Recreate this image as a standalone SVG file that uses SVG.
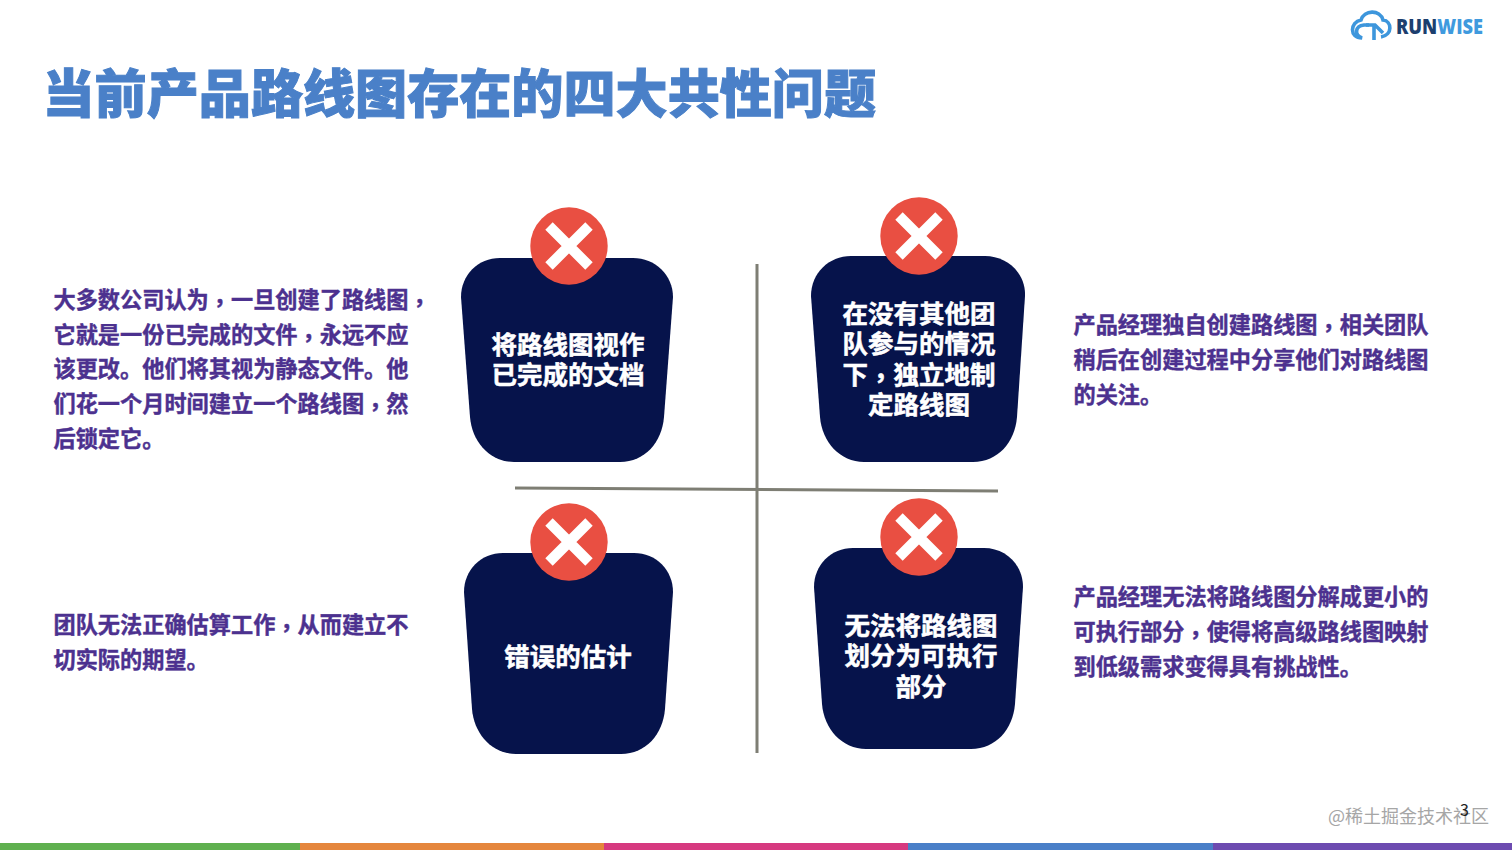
<svg xmlns="http://www.w3.org/2000/svg" width="1512" height="850" viewBox="0 0 1512 850">
<style>
text{font-family:"Noto Sans CJK SC","Noto Sans",sans-serif}
.title{font-size:52.1px;font-weight:900;fill:#4a80c8;stroke:#4a80c8;stroke-width:1px}
.desc{font-size:22.2px;font-weight:700;fill:#4c318f;stroke:#4c318f;stroke-width:.4px}
.label{font-size:25.5px;font-weight:700;fill:#fff;stroke:#fff;stroke-width:.5px;text-anchor:middle}
.p{font-family:"Noto Sans CJK TC","Noto Sans",sans-serif;baseline-shift:-3px}
.box{fill:#06134b}
.badge{fill:#e94f42}
.x{stroke:#fff;stroke-width:10.5px;fill:none}
.axis{stroke:#7e7e74;stroke-width:3px;fill:none}
</style>
<defs>
<g id="cross"><circle class="badge" r="38.7"/><path class="x" d="M-20,-20L20,20M20,-20L-20,20"/></g>
</defs>
<rect width="1512" height="850" fill="#fff"/>
<text class="title" x="42.5" y="113">当前产品路线图存在的四大共性问题</text>
<g id="logo">
<path d="M1381,37 C1393,35 1392,21 1383,20 C1380,9 1364,10 1361,20 C1350,22 1349,38 1362,38 C1354,35 1355,26 1364,25 H1369" fill="none" stroke="#3d96dc" stroke-width="3.6"/>
<path d="M1374,40 V25 M1366,25 H1375 L1383,33" fill="none" stroke="#3d96dc" stroke-width="3.6"/>
<text x="1396" y="34" font-size="21" font-weight="800" textLength="87" lengthAdjust="spacingAndGlyphs" style="font-family:'Open Sans',sans-serif" fill="#1c3f6e">RUN<tspan fill="#3f9ade">WISE</tspan></text>
</g>
<g id="connectors">
<path class="axis" d="M757,264V753"/>
<path class="axis" d="M515,488L998,491"/>
</g>
<g id="node-1">
<path class="box" d="M500,258H633C655,258 673,275 673,297L664,417C662,442 645,462 620,462H514C490,462 472,442 470,417L461,297C461,275 478,258 500,258Z"/>
<use href="#cross" x="569" y="246"/>
<text class="label" x="568" y="354">将路线图视作</text>
<text class="label" x="568" y="384">已完成的文档</text>
</g>
<g id="node-2">
<path class="box" d="M851,256H985C1007,256 1026,273 1025,296L1017,417C1015,442 998,462 973,462H864C840,462 822,442 820,417L811,296C811,273 829,256 851,256Z"/>
<use href="#cross" x="919" y="236"/>
<text class="label" x="919" y="323">在没有其他团</text>
<text class="label" x="919" y="353">队参与的情况</text>
<text class="label" x="919" y="384">下<tspan class="p">，</tspan>独立地制</text>
<text class="label" x="919" y="414">定路线图</text>
</g>
<g id="node-3">
<path class="box" d="M503,553H634C656,553 673,570 673,592L665,709C663,734 646,754 621,754H516C492,754 474,734 472,709L464,592C464,570 481,553 503,553Z"/>
<use href="#cross" x="569" y="542"/>
<text class="label" x="568" y="666">错误的估计</text>
</g>
<g id="node-4">
<path class="box" d="M853,548H984C1006,548 1023,565 1023,587L1015,704C1013,729 996,749 971,749H866C842,749 824,729 822,704L814,587C814,565 831,548 853,548Z"/>
<use href="#cross" x="919" y="537"/>
<text class="label" x="921" y="635">无法将路线图</text>
<text class="label" x="921" y="665">划分为可执行</text>
<text class="label" x="921" y="696">部分</text>
</g>
<g id="desc-1">
<text class="desc" x="53.5" y="308">大多数公司认为<tspan class="p">，</tspan>一旦创建了路线图<tspan class="p">，</tspan></text>
<text class="desc" x="53.5" y="343">它就是一份已完成的文件<tspan class="p">，</tspan>永远不应</text>
<text class="desc" x="53.5" y="377">该更改。他们将其视为静态文件。他</text>
<text class="desc" x="53.5" y="412">们花一个月时间建立一个路线图<tspan class="p">，</tspan>然</text>
<text class="desc" x="53.5" y="447">后锁定它。</text>
</g>
<g id="desc-2">
<text class="desc" x="1073.5" y="333">产品经理独自创建路线图<tspan class="p">，</tspan>相关团队</text>
<text class="desc" x="1073.5" y="368">稍后在创建过程中分享他们对路线图</text>
<text class="desc" x="1073.5" y="403">的关注。</text>
</g>
<g id="desc-3">
<text class="desc" x="53.5" y="633">团队无法正确估算工作<tspan class="p">，</tspan>从而建立不</text>
<text class="desc" x="53.5" y="668">切实际的期望。</text>
</g>
<g id="desc-4">
<text class="desc" x="1073.5" y="605">产品经理无法将路线图分解成更小的</text>
<text class="desc" x="1073.5" y="640">可执行部分<tspan class="p">，</tspan>使得将高级路线图映射</text>
<text class="desc" x="1073.5" y="675">到低级需求变得具有挑战性。</text>
</g>
<g id="footer">
<rect x="0" y="843" width="300" height="7" fill="#5fb04f"/>
<rect x="300" y="843" width="304" height="7" fill="#e5863d"/>
<rect x="604" y="843" width="304" height="7" fill="#d6397f"/>
<rect x="908" y="843" width="305" height="7" fill="#4a7fc8"/>
<rect x="1213" y="843" width="299" height="7" fill="#6d4bb0"/>
<text x="1328" y="823" font-size="18" fill="#a6a6a6">@稀土掘金技术社区</text>
<text x="1460" y="816" font-size="16" fill="#222">3</text>
</g>
</svg>
